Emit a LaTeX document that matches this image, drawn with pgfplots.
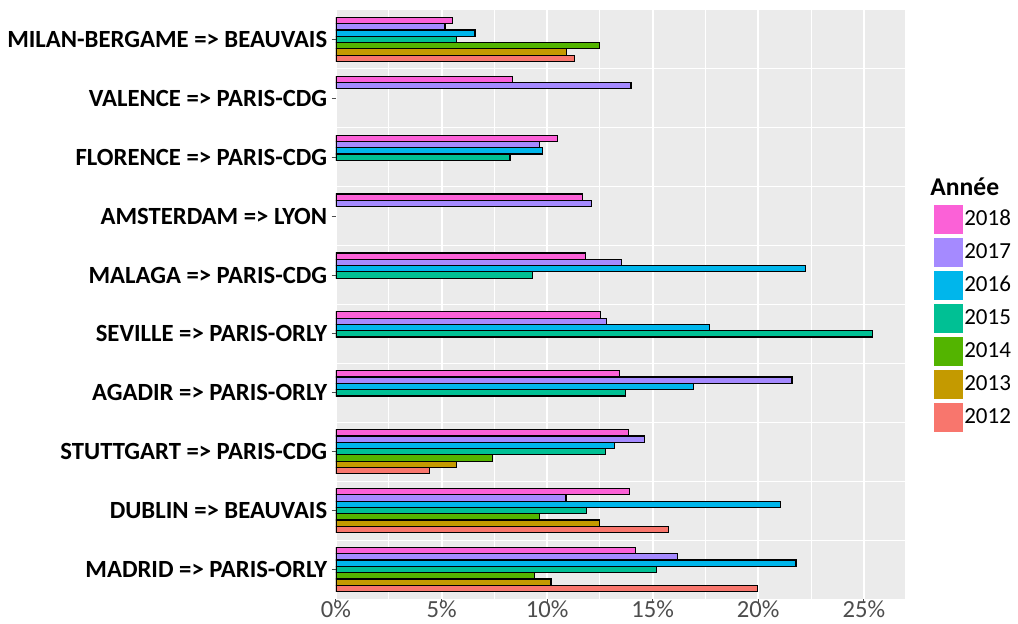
\documentclass[border=0pt]{standalone}
\usepackage{fontspec}
\setmainfont{Carlito}
\usepackage{pgfplots}
\pgfplotsset{compat=1.18}
\definecolor{bg}{HTML}{EBEBEB}
\definecolor{c2018}{HTML}{FB61D7}
\definecolor{c2017}{HTML}{A58AFF}
\definecolor{c2016}{HTML}{00B6EB}
\definecolor{c2015}{HTML}{00C094}
\definecolor{c2014}{HTML}{53B400}
\definecolor{c2013}{HTML}{C49A00}
\definecolor{c2012}{HTML}{F8766D}
\definecolor{ticklab}{HTML}{4D4D4D}
\begin{document}
\begin{tikzpicture}
\path[use as bounding box] (-168pt,-12.5pt) rectangle (341pt,299.5pt);
\begin{axis}[
  at={(0,0)}, anchor=south west,
  scale only axis, width=284.5pt, height=294.5pt,
  xbar,
  xmin=0, xmax=26.95, ymin=-0.5, ymax=9.5,
  axis background/.style={fill=bg},
  axis line style={draw=none},
  xtick={0,5,10,15,20,25},
  xticklabels={0\%,5\%,10\%,15\%,20\%,25\%},
  minor xtick={2.5,7.5,12.5,17.5,22.5},
  ytick={0,...,9},
  yticklabels={MADRID => PARIS-ORLY, DUBLIN => BEAUVAIS, STUTTGART => PARIS-CDG, AGADIR => PARIS-ORLY, SEVILLE => PARIS-ORLY, MALAGA => PARIS-CDG, AMSTERDAM => LYON, FLORENCE => PARIS-CDG, VALENCE => PARIS-CDG, MILAN-BERGAME => BEAUVAIS},
  minor ytick={0.5,1.5,...,8.5},
  xmajorgrids=true, xminorgrids=true, ymajorgrids=false, yminorgrids=true,
  major grid style={white, line width=1pt},
  minor grid style={white, line width=0.5pt},
  tick align=outside, xtick pos=bottom, ytick pos=left,
  major tick length=2.2pt, minor tick length=0pt,
  tick style={draw=ticklab, line width=0.5pt},
  xticklabel style={font=\fontsize{12.3}{14}\selectfont, text=ticklab, inner sep=0pt, yshift=1.5pt},
  yticklabel style={font=\fontsize{12.35}{14}\selectfont\bfseries, text=black, inner sep=0pt, xshift=-2pt},
  bar width=0.107,
  legend cell align=left,
  legend style={at={(1.049,0.672)}, anchor=north west, draw=none, fill=none,
    inner sep=0pt, row sep=1pt, font=\fontsize{11.5}{13}\selectfont,
    nodes={inner sep=0pt, xshift=2.5pt}},
  legend image code/.code={\fill[#1,draw=white,line width=0.5pt] (0pt,-7.5pt) rectangle (15pt,7.5pt);},
]
\addplot[fill=c2018, draw=black, line width=0.6pt, bar shift=0.321] coordinates {
(14.18,0) (13.89,1) (13.86,2) (13.42,3) (12.53,4) (11.81,5) (11.68,6) (10.49,7) (8.35,8) (5.51,9)};
\addplot[fill=c2017, draw=black, line width=0.6pt, bar shift=0.214] coordinates {
(16.18,0) (10.89,1) (14.60,2) (21.60,3) (12.81,4) (13.54,5) (12.12,6) (9.64,7) (13.97,8) (5.16,9)};
\addplot[fill=c2016, draw=black, line width=0.6pt, bar shift=0.107] coordinates {
(21.79,0) (21.04,1) (13.18,2) (16.95,3) (17.70,4) (22.25,5) (9.78,7) (6.58,9)};
\addplot[fill=c2015, draw=black, line width=0.6pt, bar shift=0] coordinates {
(15.19,0) (11.88,1) (12.75,2) (13.70,3) (25.40,4) (9.32,5) (8.24,7) (5.70,9)};
\addplot[fill=c2014, draw=black, line width=0.6pt, bar shift=-0.107] coordinates {
(9.40,0) (9.63,1) (7.40,2) (12.47,9)};
\addplot[fill=c2013, draw=black, line width=0.6pt, bar shift=-0.214] coordinates {
(10.18,0) (12.49,1) (5.72,2) (10.92,9)};
\addplot[fill=c2012, draw=black, line width=0.6pt, bar shift=-0.321] coordinates {
(19.95,0) (15.75,1) (4.44,2) (11.28,9)};
\legend{2018,2017,2016,2015,2014,2013,2012}
\end{axis}
\node[anchor=base west, inner sep=0pt, font=\fontsize{12.8}{14}\selectfont\bfseries] at (297pt,201.5pt) {Année};
\end{tikzpicture}
\end{document}
